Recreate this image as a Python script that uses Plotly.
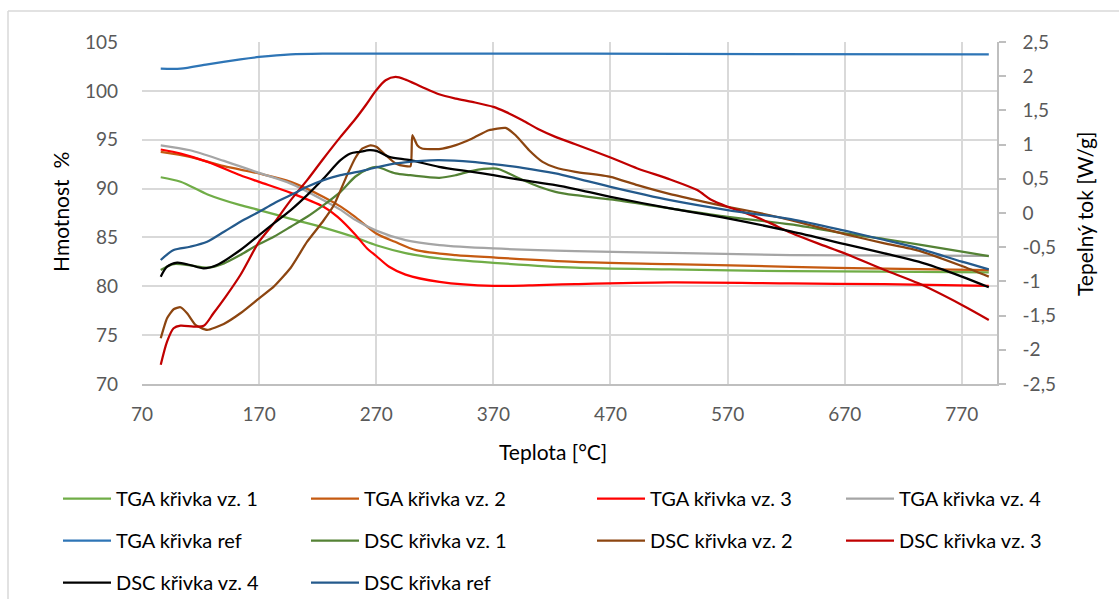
import plotly.graph_objects as go

# ---------------- data ----------------
tga1_T = [86, 103, 126, 154, 170, 197, 225, 252, 270, 295, 324, 370, 440, 521, 624, 704, 793]
tga1_v = [91.16, 90.7, 89.4, 88.3, 87.8, 86.9, 86.0, 85.0, 84.2, 83.4, 82.85, 82.4, 81.9, 81.72, 81.55, 81.5, 81.42]

tga2_T = [86, 111, 140, 170, 197, 225, 240, 252, 270, 286, 304, 338, 370, 440, 521, 624, 704, 793]
tga2_v = [93.75, 93.24, 92.29, 91.54, 90.69, 89.15, 88.13, 87.1, 85.4, 84.55, 83.7, 83.19, 82.95, 82.5, 82.27, 81.99, 81.8, 81.65]

tga3_T = [86, 103, 126, 154, 170, 197, 225, 237, 252, 262, 270, 281, 295, 324, 370, 409, 440, 521, 624, 704, 793]
tga3_v = [94.0, 93.58, 92.73, 91.37, 90.69, 89.56, 88.13, 87.1, 85.3, 83.9, 83.1, 82.0, 81.2, 80.46, 80.05, 80.12, 80.22, 80.39, 80.29, 80.22, 80.05]

tga4_T = [86, 111, 140, 170, 197, 225, 240, 252, 270, 295, 324, 370, 440, 521, 624, 793]
tga4_v = [94.43, 93.92, 92.83, 91.6, 90.51, 88.81, 87.79, 86.8, 85.7, 84.72, 84.21, 83.87, 83.6, 83.43, 83.19, 83.1]

tgaref_T = [86, 103, 126, 154, 170, 197, 225, 300, 450, 600, 793]
tgaref_v = [102.27, 102.27, 102.72, 103.23, 103.47, 103.74, 103.81, 103.81, 103.8, 103.77, 103.74]

dsc1_T = [86, 97, 111, 126, 140, 154, 170, 182.5, 197, 211, 225, 239.5, 252, 264, 270, 275, 286.5, 299,
          324, 338, 352, 370, 375, 389, 409, 423, 440, 470, 521, 570, 624, 670, 704, 770, 793]
dsc1_v = [-0.833, -0.746, -0.765, -0.8, -0.736, -0.614, -0.454, -0.347, -0.2, -0.055, 0.116, 0.31, 0.53, 0.651,
          0.675, 0.65, 0.578, 0.553, 0.515, 0.553, 0.617, 0.651, 0.64, 0.53, 0.383, 0.31, 0.26, 0.198, 0.067,
          -0.055, -0.167, -0.298, -0.38, -0.566, -0.629]

dsc2_T = [86, 91.4, 97, 102.8, 108.5, 115.6, 125.6, 139.8, 154, 170, 182.5, 197, 211, 225, 234, 245, 252,
          258, 265, 270, 278, 286.5, 295, 299.3, 300.8, 305, 309, 323.6, 338, 352, 366, 380.5, 389, 400.5, 412,
          423, 440, 470, 493, 521, 550, 570, 592, 624, 670, 704, 733, 770, 793]
dsc2_v = [-1.831, -1.539, -1.407, -1.378, -1.466, -1.636, -1.709, -1.622, -1.466, -1.247, -1.077, -0.8,
          -0.42, -0.11, 0.12, 0.55, 0.8, 0.94, 0.99, 0.967, 0.846, 0.724, 0.685, 0.685, 1.137, 0.992, 0.943,
          0.935, 0.992, 1.089, 1.21, 1.244, 1.137, 0.918, 0.748, 0.665, 0.602, 0.529, 0.407, 0.276, 0.164,
          0.091, 0.018, -0.103, -0.308, -0.444, -0.551, -0.775, -0.93]

dsc3_T = [86, 91.4, 97, 102.8, 114, 122.7, 131, 141.5, 154, 170, 182.5, 197, 211, 225, 239.5, 252, 261, 270,
          278, 286.5, 295, 309, 323.6, 338, 352, 370, 380.5, 394.8, 409, 423, 440, 470, 493, 521, 544, 555.5,
          570, 592.5, 606.8, 624, 647, 670, 704, 733, 770, 793]
dsc3_v = [-2.22, -1.88, -1.685, -1.646, -1.66, -1.65, -1.466, -1.222, -0.906, -0.42, -0.152, 0.188, 0.48, 0.797,
          1.113, 1.37, 1.575, 1.794, 1.94, 1.989, 1.95, 1.843, 1.736, 1.673, 1.624, 1.551, 1.478, 1.356, 1.22,
          1.113, 1.006, 0.811, 0.651, 0.49, 0.335, 0.198, 0.091, -0.045, -0.152, -0.288, -0.444, -0.59, -0.833,
          -1.028, -1.344, -1.563]

dsc4_T = [86, 91.4, 100, 111, 122.7, 134, 154, 170, 182.5, 197, 211, 225, 239.5, 248, 256, 264, 270, 281, 299,
          323.6, 352, 370, 394.8, 423, 440, 470, 521, 570, 624, 670, 704, 733, 770, 793]
dsc4_v = [-0.931, -0.785, -0.726, -0.76, -0.809, -0.76, -0.541, -0.322, -0.152, 0.043, 0.262, 0.505, 0.773, 0.87,
          0.894, 0.918, 0.909, 0.821, 0.772, 0.675, 0.602, 0.553, 0.48, 0.407, 0.35, 0.237, 0.067, -0.079, -0.27,
          -0.454, -0.59, -0.712, -0.93, -1.086]

dscref_T = [86, 97, 111, 125.6, 140, 154, 170, 182.5, 197, 211, 225, 239.5, 254, 270, 286.5, 309, 323.6, 352, 370,
            394.8, 423, 440, 470, 521, 570, 624, 670, 704, 733, 770, 793]
dscref_v = [-0.687, -0.541, -0.493, -0.42, -0.274, -0.128, 0.018, 0.14, 0.262, 0.383, 0.48, 0.553, 0.6, 0.665,
            0.724, 0.763, 0.772, 0.748, 0.714, 0.66, 0.578, 0.51, 0.383, 0.188, 0.043, -0.09, -0.259, -0.395,
            -0.517, -0.712, -0.824]

x_ticks = [70, 170, 270, 370, 470, 570, 670, 770]
y_ticks = [70, 75, 80, 85, 90, 95, 100, 105]
y2_vals = [2.5, 2, 1.5, 1, 0.5, 0, -0.5, -1, -1.5, -2, -2.5]
y2_text = ["2,5", "2", "1,5", "1", "0,5", "0", "-0,5", "-1", "-1,5", "-2", "-2,5"]

# ---------------- layout helpers ----------------
W, H = 1119, 599
ML, MR, MT, MB = 142, 122, 42, 215
PW, PH = W - ML - MR, H - MT - MB


def px(x):
    return (x - ML) / PW


def py(y):
    return (H - MB - y) / PH


def cx(x):
    return x / W


def cy(y):
    return 1 - y / H


series = [
    # name, T, v, color, axis, legend, smoothing
    ("TGA křivka vz. 1", tga1_T, tga1_v, "#70AD47", "y", "legend", 0.8),
    ("TGA křivka vz. 2", tga2_T, tga2_v, "#C55A11", "y", "legend2", 0.8),
    ("TGA křivka vz. 3", tga3_T, tga3_v, "#FF0000", "y", "legend3", 0.8),
    ("TGA křivka vz. 4", tga4_T, tga4_v, "#A5A5A5", "y", "legend4", 0.8),
    ("TGA křivka ref", tgaref_T, tgaref_v, "#2E75B6", "y", "legend", 0.8),
    ("DSC křivka vz. 1", dsc1_T, dsc1_v, "#548235", "y2", "legend2", 0.8),
    ("DSC křivka vz. 2", dsc2_T, dsc2_v, "#8C4510", "y2", "legend3", 0.5),
    ("DSC křivka vz. 3", dsc3_T, dsc3_v, "#C00000", "y2", "legend4", 0.8),
    ("DSC křivka vz. 4", dsc4_T, dsc4_v, "#000000", "y2", "legend", 0.8),
    ("DSC křivka ref", dscref_T, dscref_v, "#245A8C", "y2", "legend2", 0.8),
]

fig = go.Figure()
for i, (name, T, v, col, ax, leg, sm) in enumerate(series):
    fig.add_trace(go.Scatter(x=T, y=v, name=name, mode="lines",
                             line=dict(color=col, width=2.25, shape="spline", smoothing=sm),
                             yaxis=ax, legend=leg, legendgroup="g%d" % i))

tick_font = dict(family="Lato", size=19, color="#595959")
leg_common = dict(orientation="v", xanchor="left", yanchor="top", bgcolor="rgba(0,0,0,0)",
                  xref="container", yref="container",
                  font=dict(family="Lato", size=20, color="#000000"), itemwidth=48,
                  tracegroupgap=13, itemclick=False, itemdoubleclick=False)
leg_y = cy(479)

fig.update_layout(
    width=W, height=H,
    margin=dict(l=ML, r=MR, t=MT, b=MB, autoexpand=False),
    paper_bgcolor="white", plot_bgcolor="white",
    font=dict(family="Lato"),
    showlegend=True,
    xaxis=dict(range=[70, 800], tickvals=x_ticks, ticktext=[str(t) for t in x_ticks],
               showgrid=True, gridcolor="#D9D9D9", gridwidth=1.5,
               showline=True, linecolor="#BFBFBF", linewidth=1.5, zeroline=False,
               ticks="", tickfont=tick_font, ticklabelstandoff=12, fixedrange=True),
    yaxis=dict(range=[70, 105], tickvals=y_ticks, ticktext=[str(t) for t in y_ticks],
               showgrid=True, gridcolor="#D9D9D9", gridwidth=1.5, zeroline=False,
               showline=False, ticks="", tickfont=tick_font, ticklabelstandoff=23, fixedrange=True),
    yaxis2=dict(overlaying="y", side="right", range=[-2.5, 2.5], tickvals=y2_vals, ticktext=y2_text,
                showgrid=False, zeroline=False, showline=True, linecolor="#BFBFBF", linewidth=1.5,
                ticks="outside", ticklen=7, tickwidth=1.5, tickcolor="#BFBFBF",
                tickfont=tick_font, ticklabelstandoff=13, fixedrange=True),
    legend=dict(leg_common, x=cx(58), y=leg_y),
    legend2=dict(leg_common, x=cx(306), y=leg_y),
    legend3=dict(leg_common, x=cx(592), y=leg_y),
    legend4=dict(leg_common, x=cx(841), y=leg_y),
    annotations=[
        dict(text="Hmotnost  %", x=px(60), y=py(212), xref="paper", yref="paper", showarrow=False,
             textangle=-90, font=dict(family="Lato", size=21, color="#000000"),
             xanchor="center", yanchor="middle"),
        dict(text="Teplota [°C]", x=px(553), y=py(451), xref="paper", yref="paper", showarrow=False,
             font=dict(family="Lato", size=21, color="#000000"), xanchor="center", yanchor="middle"),
        dict(text="Tepelný tok [W/g]", x=px(1084), y=py(214), xref="paper", yref="paper", showarrow=False,
             textangle=-90, font=dict(family="Lato", size=21, color="#000000"),
             xanchor="center", yanchor="middle"),
    ],
    shapes=[
        dict(type="line", xref="paper", yref="paper", x0=px(8), x1=px(1125), y0=py(11), y1=py(11),
             line=dict(color="#D9D9D9", width=1.5)),
        dict(type="line", xref="paper", yref="paper", x0=px(8), x1=px(8), y0=py(11), y1=py(605),
             line=dict(color="#D9D9D9", width=1.5)),
    ],
)

fig.write_html("out.html")
